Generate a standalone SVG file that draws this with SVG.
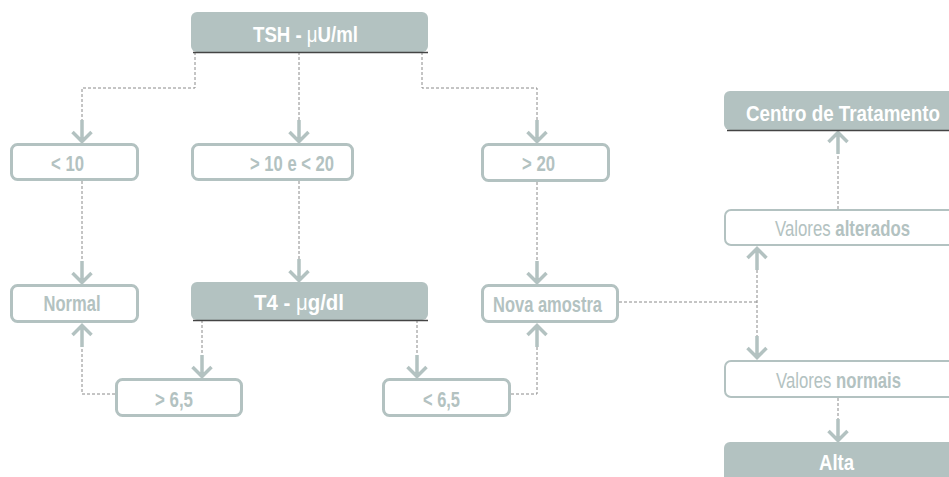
<svg xmlns="http://www.w3.org/2000/svg" xmlns:xlink="http://www.w3.org/1999/xlink" width="949" height="477" viewBox="0 0 949 477">
<style>
.fill{fill:#b3c2c1;}
.box{fill:#ffffff;stroke:#b3c2c1;stroke-width:3;}
.box2{fill:#ffffff;stroke:#b3c2c1;stroke-width:2;}
.base{stroke:#444;stroke-width:1.5;fill:none;}
.dash{fill:none;stroke:#8a8a8a;stroke-width:1;stroke-dasharray:3,2;}
.arr{fill:none;stroke:#b3c2c1;stroke-width:3.5;}
text{font-family:"Liberation Sans Narrow","Liberation Sans",Arial,sans-serif;font-size:22px;font-weight:bold;}
.tw{fill:#ffffff;}
.tg{fill:#b3c2c1;}
.mu{font-weight:normal;}
.reg{font-weight:normal;}
</style>
<defs>
<path id="ad" d="M0,-23 V-1 M-9.5,-11 L0,-1.5 L9.5,-11"/>
<path id="au" d="M0,23 V1 M-9.5,11 L0,1.5 L9.5,11"/>
</defs>
<rect width="949" height="477" fill="#ffffff"/>
<g id="connectors">
<path class="dash" d="M195,52 V88 H82 V120"/>
<path class="dash" d="M299,52 V120"/>
<path class="dash" d="M422,52 V88 H537 V120"/>
<path class="dash" d="M82,181 V261"/>
<path class="dash" d="M299,181 V259"/>
<path class="dash" d="M537,182 V261"/>
<path class="dash" d="M202,320 V355"/>
<path class="dash" d="M417,320 V355"/>
<path class="dash" d="M115,394 H82 V347"/>
<path class="dash" d="M511,394 H537 V347"/>
<path class="dash" d="M619,302 H757"/>
<path class="dash" d="M757,270 V336"/>
<path class="dash" d="M838,209 V155"/>
<path class="dash" d="M838,398 V419"/>
<g class="arr">
<use xlink:href="#ad" x="82" y="143"/>
<use xlink:href="#ad" x="299" y="143"/>
<use xlink:href="#ad" x="537" y="143"/>
<use xlink:href="#ad" x="82" y="284"/>
<use xlink:href="#ad" x="299" y="282"/>
<use xlink:href="#ad" x="537" y="284"/>
<use xlink:href="#ad" x="202" y="378"/>
<use xlink:href="#ad" x="417" y="378"/>
<use xlink:href="#au" x="82" y="324"/>
<use xlink:href="#au" x="537" y="324"/>
<use xlink:href="#au" x="757" y="247"/>
<use xlink:href="#ad" x="757" y="359"/>
<use xlink:href="#au" x="838" y="131"/>
<use xlink:href="#ad" x="838" y="442"/>
</g>
</g>
<g id="tsh">
<rect class="fill" x="191" y="12" width="237" height="40" rx="6"/>
<path class="base" d="M193,52.5 H428"/>
<text class="tw" x="253" y="41.5" textLength="105" lengthAdjust="spacingAndGlyphs">TSH - <tspan class="mu">μ</tspan>U/ml</text>
</g>
<g id="lt10">
<rect class="box" x="11.5" y="144.5" width="126" height="35" rx="6"/>
<text class="tg" x="51" y="170.5" textLength="33" lengthAdjust="spacingAndGlyphs">&lt; 10</text>
</g>
<g id="gt10lt20">
<rect class="box" x="192.5" y="144.5" width="160" height="35" rx="6"/>
<text class="tg" x="250" y="170.5" textLength="84" lengthAdjust="spacingAndGlyphs">&gt; 10 e &lt; 20</text>
</g>
<g id="gt20">
<rect class="box" x="482.5" y="144.5" width="126" height="36" rx="6"/>
<text class="tg" x="522" y="170.5" textLength="33" lengthAdjust="spacingAndGlyphs">&gt; 20</text>
</g>
<g id="normal">
<rect class="box" x="11.5" y="285.5" width="126" height="36" rx="6"/>
<text class="tg" x="43.5" y="311" textLength="57" lengthAdjust="spacingAndGlyphs">Normal</text>
</g>
<g id="t4">
<rect class="fill" x="191" y="282" width="237" height="38" rx="6"/>
<path class="base" d="M193,320.5 H428"/>
<text class="tw" x="254" y="309.5" textLength="90" lengthAdjust="spacingAndGlyphs">T4 - <tspan class="mu">μ</tspan>g/dl</text>
</g>
<g id="nova">
<rect class="box" x="482.5" y="285.5" width="135" height="36" rx="6"/>
<text class="tg" x="493" y="311.5" textLength="109" lengthAdjust="spacingAndGlyphs">Nova amostra</text>
</g>
<g id="gt65">
<rect class="box" x="116.5" y="379.5" width="125" height="36" rx="6"/>
<text class="tg" x="155" y="406.5" textLength="38" lengthAdjust="spacingAndGlyphs">&gt; 6,5</text>
</g>
<g id="lt65">
<rect class="box" x="383.5" y="379.5" width="126" height="36" rx="6"/>
<text class="tg" x="423" y="406.5" textLength="37" lengthAdjust="spacingAndGlyphs">&lt; 6,5</text>
</g>
<g id="centro">
<rect class="fill" x="724" y="91" width="240" height="39" rx="6"/>
<path class="base" d="M727,130.5 H949"/>
<text class="tw" x="746" y="121" textLength="194" lengthAdjust="spacingAndGlyphs">Centro de Tratamento</text>
</g>
<g id="alterados">
<rect class="box2" x="725" y="210" width="240" height="35" rx="6"/>
<text class="tg" x="775" y="235.5" textLength="135" lengthAdjust="spacingAndGlyphs"><tspan class="reg">Valores </tspan>alterados</text>
</g>
<g id="normais">
<rect class="box2" x="725" y="361" width="240" height="36" rx="6"/>
<text class="tg" x="776" y="387.5" textLength="125" lengthAdjust="spacingAndGlyphs"><tspan class="reg">Valores </tspan>normais</text>
</g>
<g id="alta">
<rect class="fill" x="724" y="442" width="240" height="45" rx="6"/>
<text class="tw" x="819" y="470" textLength="35" lengthAdjust="spacingAndGlyphs">Alta</text>
</g>
</svg>
